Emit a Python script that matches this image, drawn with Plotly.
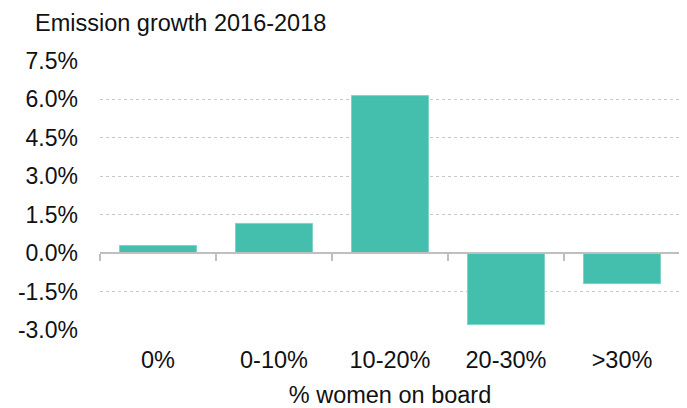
import plotly.graph_objects as go

categories = ["0%", "0-10%", "10-20%", "20-30%", ">30%"]
growth = [0.30, 1.16, 6.15, -2.79, -1.19]
ytick_vals = [-3.0, -1.5, 0.0, 1.5, 3.0, 4.5, 6.0, 7.5]
ytick_text = ["-3.0%", "-1.5%", "0.0%", "1.5%", "3.0%", "4.5%", "6.0%", "7.5%"]
title_text = "Emission growth 2016-2018"
xaxis_title = "% women on board"

FONT = "Liberation Sans, Arial, sans-serif"
BAR = "#45BFAD"
y_min, y_max = -3.0, 7.5
OFF = 8  # page body margin
W, H = 687 - OFF, 408 - OFF
L, R, T, B = 100 - OFF, 7, 61 - OFF, 78
PW = W - L - R

fig = go.Figure()
fig.add_trace(go.Bar(
    x=categories, y=growth, marker=dict(color=BAR, line=dict(color="#7fd3c6", width=1)),
    hoverinfo="x+y", showlegend=False,
))
# invisible trace on the zero-line axis
fig.add_trace(go.Bar(x=categories, y=[None] * len(categories), xaxis="x2", showlegend=False, hoverinfo="skip"))

fig.update_layout(
    width=W, height=H,
    margin=dict(l=L, r=R, t=T, b=B),
    plot_bgcolor="white", paper_bgcolor="white",
    bargap=0.336,
    font=dict(family=FONT, size=23.5, color="#111111"),
    xaxis=dict(
        type="category", showline=False, showgrid=False, zeroline=False, automargin=False,
        ticks="", ticklabelstandoff=13, tickfont=dict(size=23.5),
        title=dict(text=xaxis_title, font=dict(size=23.5), standoff=20),
    ),
    xaxis2=dict(
        type="category", overlaying="x", anchor="free", automargin=False,
        position=(0 - y_min) / (y_max - y_min),
        side="bottom", showline=True, linecolor="#bfbfbf", linewidth=1.5,
        ticks="outside", tickson="boundaries", ticklen=7, tickcolor="#bfbfbf", tickwidth=1.5,
        showticklabels=False, showgrid=False, zeroline=False, matches="x",
    ),
    yaxis=dict(
        range=[y_min, y_max], tickvals=ytick_vals, ticktext=ytick_text, automargin=False,
        showgrid=True, gridcolor="#c8c8c8", griddash="dot", gridwidth=1,
        zeroline=False, showline=False, ticks="", ticklabelstandoff=21,
        tickfont=dict(size=23),
    ),
    annotations=[dict(
        text=title_text, xref="paper", yref="paper", x=(33 - OFF - L) / PW, y=1,
        xanchor="left", yanchor="middle", yshift=T - (23 - OFF), showarrow=False,
        font=dict(size=23.5, family=FONT, color="#111111"),
    )],
)

fig.write_html("out.html")
